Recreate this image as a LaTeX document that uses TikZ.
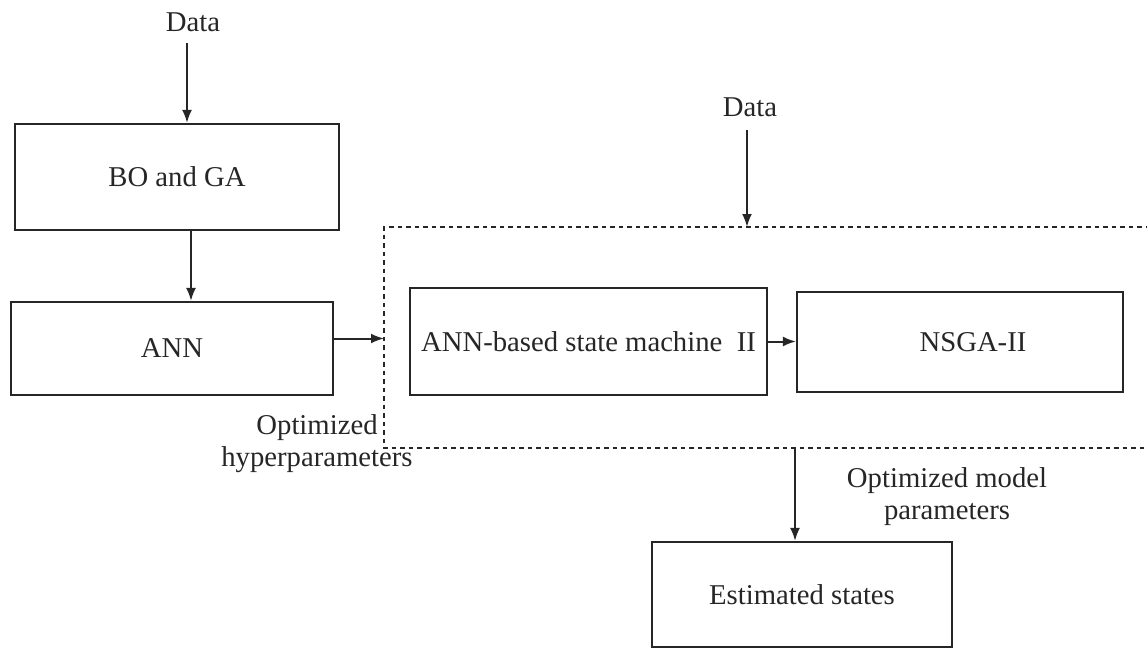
\documentclass[tikz,border=0pt]{standalone}
\usepackage{fontspec}
\setmainfont{Liberation Serif}
\usetikzlibrary{arrows.meta,calc}
\definecolor{ink}{HTML}{262626}
\begin{document}
\begin{tikzpicture}[x=1pt,y=-1pt,
  every node/.style={font=\fontsize{28.7}{32}\selectfont, text=ink},
  blockbox/.style={draw=ink, line width=2.2pt, rectangle, inner sep=0pt},
  arr/.style={draw=ink, line width=2pt, -{Latex[length=13pt,width=10pt]}},
  region/.style={draw=ink, line width=1.8pt, dash pattern=on 4.5pt off 4pt},
  note/.style={align=center, inner sep=0pt}]
\useasboundingbox (0,0) rectangle (1147,648);

% blocks
\node[blockbox, minimum width=324, minimum height=106] (bo) at (177,177) {BO and GA};
\node[blockbox, minimum width=322, minimum height=93] (ann) at (172,348.5) {ANN};
\node[blockbox, minimum width=357, minimum height=107] (sm) at (588.5,341.5) {ANN-based state machine\ \ II};
\node[blockbox, minimum width=326, minimum height=100] (nsga) at (960,342) {\hspace*{26pt}NSGA-II};
\node[blockbox, minimum width=300, minimum height=105] (est) at (802,594.5) {Estimated states};

% labels
\node[note] (data1) at (193,22) {Data};
\node[note] (data2) at (750,107) {Data};
\node[note] (hyp) at (317,444) {Optimized\\hyperparameters};
\node[note] (mod) at (947,497) {Optimized model\\parameters};

% dotted region around the state machine and NSGA-II
\coordinate (regNE) at (1150,227);
\coordinate (regNW) at (384,227);
\coordinate (regSW) at (384,448);
\coordinate (regSE) at (1150,448);
\draw[region] (regNE) -- (regNW) -- (regSW) -- (regSE);

% connectors
\coordinate (dIn) at (187,43);
\draw[arr] (dIn) -- (dIn |- bo.north);
\draw[arr] ([xshift=14pt]bo.south) -- ([xshift=14pt]bo.south |- ann.north);
\draw[arr] ([yshift=10pt]ann.east) -- ([yshift=10pt]ann.east -| regNW);
\draw[arr] (sm.east) -- (sm.east -| nsga.west);
\coordinate (dIn2) at (747,130);
\draw[arr] (dIn2) -- (dIn2 |- regNW);
\coordinate (regOut) at (795,448);
\draw[arr] (regOut) -- (regOut |- est.north);
\end{tikzpicture}
\end{document}
